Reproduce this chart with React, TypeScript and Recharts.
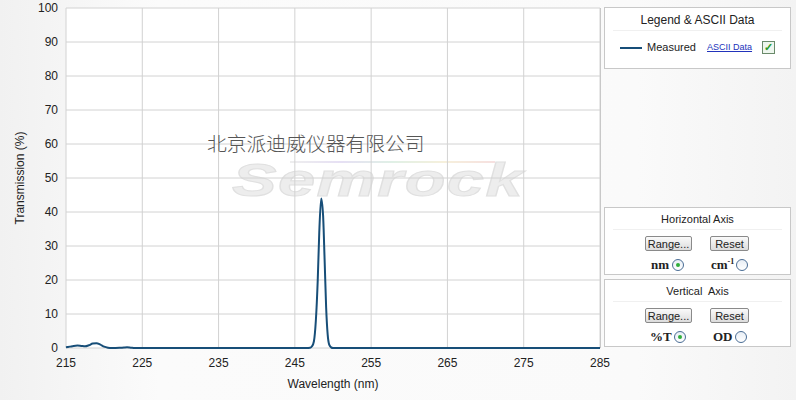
import React from "react";
import { LineChart, Line, XAxis, YAxis, CartesianGrid } from "recharts";

// wavelength (nm) and transmission (%)
const wavelengths = [
  215, 215.5, 216, 216.5, 217, 217.5, 218, 218.5, 219, 219.5, 220, 220.5, 221,
  222, 222.6, 223, 223.5, 224, 230, 240, 246, 246.5, 247, 247.25, 247.5, 247.75,
  248, 248.2, 248.45, 248.7, 248.9, 249.1, 249.3, 249.5, 249.75, 250, 251, 260,
  270, 280, 285,
];
const transmission = [
  0.2, 0.4, 0.6, 0.7, 0.6, 0.5, 0.8, 1.3, 1.4, 1.0, 0.4, 0.1, 0.0,
  0.05, 0.15, 0.2, 0.1, 0.0, 0, 0, 0, 0, 0.1, 0.5, 2, 8,
  20, 34, 44, 39, 26, 12, 4, 1, 0.2, 0, 0, 0,
  0, 0, 0,
];
const xTicks = [215, 225, 235, 245, 255, 265, 275, 285];
const yTicks = [0, 10, 20, 30, 40, 50, 60, 70, 80, 90, 100];

const data = wavelengths.map((w, i) => ({ w, t: transmission[i] }));

const LINE = "#174e78";
const font = "'Liberation Sans', Arial, sans-serif";

const panel: React.CSSProperties = {
  position: "absolute",
  left: 604,
  width: 187,
  background: "#fff",
  border: "1px solid #c8c8c8",
  boxSizing: "border-box",
  fontFamily: font,
  color: "#222",
};

const btn: React.CSSProperties = {
  position: "absolute",
  height: 15,
  border: "1px solid #8a8a8a",
  borderRadius: 2,
  background: "linear-gradient(#fafafa, #dcdcdc)",
  fontSize: 11,
  lineHeight: "14px",
  textAlign: "center",
  boxSizing: "border-box",
};

function Radio({ x, y, on }: { x: number; y: number; on?: boolean }) {
  return (
    <div
      style={{
        position: "absolute",
        left: x,
        top: y,
        width: 12,
        height: 12,
        borderRadius: "50%",
        border: "1px solid #4a6d95",
        background: "linear-gradient(#e8eef5, #fff)",
        boxSizing: "border-box",
      }}
    >
      {on && (
        <div
          style={{
            position: "absolute",
            left: 3,
            top: 3,
            width: 4,
            height: 4,
            borderRadius: "50%",
            background: "#2fae3a",
          }}
        />
      )}
    </div>
  );
}

function AxisPanel(props: {
  top: number;
  title: string;
  a: React.ReactNode;
  b: React.ReactNode;
  ax: number;
  ar: number;
  bx: number;
  br: number;
}) {
  const unit: React.CSSProperties = {
    position: "absolute",
    top: 49,
    fontFamily: "'Liberation Serif', serif",
    fontWeight: "bold",
    fontSize: 13,
    lineHeight: "15px",
    whiteSpace: "nowrap",
  };
  return (
    <div style={{ ...panel, top: props.top, height: 68 }}>
      <div style={{ textAlign: "center", fontSize: 11, marginTop: 5 }}>{props.title}</div>
      <div style={{ position: "absolute", left: 8, right: 8, top: 21, borderTop: "1px solid #f0f0f0" }} />
      <div style={{ ...btn, left: 40, top: 28, width: 47 }}>Range...</div>
      <div style={{ ...btn, left: 105, top: 28, width: 39 }}>Reset</div>
      <div style={{ ...unit, left: props.ax }}>{props.a}</div>
      <Radio x={props.ar} y={51} on />
      <div style={{ ...unit, left: props.bx }}>{props.b}</div>
      <Radio x={props.br} y={51} />
    </div>
  );
}

export default function App() {
  return (
    <div
      style={{
        position: "absolute",
        left: 0,
        top: 0,
        width: 796,
        height: 400,
        overflow: "hidden",
        background: "linear-gradient(90deg, #f1f1f1 0%, #fbfbfb 20%, #fafafa 80%, #f3f3f3 100%)",
      }}
    >
      {/* plot background */}
      <div style={{ position: "absolute", left: 66, top: 8, width: 534, height: 340, background: "#fff" }} />
      {/* watermark */}
      <div
        style={{
          position: "absolute",
          left: 290,
          top: 161,
          width: 205,
          height: 2,
          background: "linear-gradient(90deg, #eee, #e6e0f4, #e0f0e6, #f6f0dc, #f6e0e0)",
        }}
      />
      <div
        style={{
          position: "absolute",
          left: 232,
          top: 161,
          fontFamily: "'Liberation Sans', Arial, sans-serif",
          fontWeight: "bold",
          fontStyle: "italic",
          fontSize: 46,
          lineHeight: "38px",
          letterSpacing: 1,
          color: "#ededed",
          WebkitTextStroke: "1px #e0e0e0",
          transform: "scaleX(1.45)",
          transformOrigin: "left top",
          whiteSpace: "nowrap",
        }}
      >
        Semrock
      </div>

      <div style={{ position: "absolute", left: 0, top: 0 }}>
        <LineChart
          width={796}
          height={400}
          data={data}
          margin={{ top: 8, right: 196, bottom: 0, left: 0 }}
        >
          <CartesianGrid stroke="#d2d2d2" strokeWidth={1} />
          <XAxis
            dataKey="w"
            type="number"
            domain={[215, 285]}
            ticks={xTicks}
            height={52}
            axisLine={false}
            tickLine={false}
            tickMargin={4}
            tick={{ fontSize: 12, fill: "#222", fontFamily: font }}
            label={{
              value: "Wavelength (nm)",
              position: "insideBottom",
              offset: 12,
              style: { fontSize: 12, fill: "#222", fontFamily: font },
            }}
          />
          <YAxis
            type="number"
            domain={[0, 100]}
            ticks={yTicks}
            width={66}
            axisLine={false}
            tickLine={false}
            tickMargin={2}
            tick={{ fontSize: 12, fill: "#222", fontFamily: font }}
            label={{
              value: "Transmission (%)",
              angle: -90,
              position: "insideLeft",
              offset: 20,
              style: { fontSize: 12, fill: "#222", fontFamily: font, textAnchor: "middle" },
            }}
          />
          <Line
            type="monotone"
            dataKey="t"
            stroke={LINE}
            strokeWidth={2}
            dot={false}
            isAnimationActive={false}
          />
        </LineChart>
      </div>

      <div
        style={{
          position: "absolute",
          left: 207,
          top: 132,
          fontFamily: "'Noto Sans CJK SC', sans-serif",
          fontWeight: 300,
          fontSize: 19.8,
          lineHeight: "22px",
          color: "#555",
          whiteSpace: "nowrap",
        }}
      >
        北京派迪威仪器有限公司
      </div>

      {/* right side control panels */}
      <div style={{ position: "absolute", left: 600, top: 8, width: 1, height: 340, background: "#c8c8c8" }} />
      <div style={{ ...panel, top: 7, height: 62 }}>
        <div style={{ textAlign: "center", fontSize: 12, marginTop: 5 }}>Legend &amp; ASCII Data</div>
        <div style={{ position: "absolute", left: 8, right: 8, top: 22, borderTop: "1px solid #f0f0f0" }} />
        <div style={{ position: "absolute", left: 15, top: 39, width: 22, height: 2, background: LINE }} />
        <div style={{ position: "absolute", left: 42, top: 33, fontSize: 11 }}>Measured</div>
        <div
          style={{
            position: "absolute",
            left: 102,
            top: 34,
            fontSize: 9,
            color: "#2233bb",
            textDecoration: "underline",
          }}
        >
          ASCII Data
        </div>
        <div
          style={{
            position: "absolute",
            left: 157,
            top: 33,
            width: 13,
            height: 13,
            border: "1px solid #6a8a6a",
            background: "#eef6ee",
            boxSizing: "border-box",
            color: "#2a9a2a",
            fontSize: 11,
            lineHeight: "11px",
            textAlign: "center",
            fontWeight: "bold",
          }}
        >
          ✓
        </div>
      </div>
      <AxisPanel
        top={207}
        title="Horizontal Axis"
        ax={46}
        ar={67}
        bx={106}
        br={131}
        a="nm"
        b={
          <span>
            cm
            <span style={{ fontSize: 8, verticalAlign: "top", lineHeight: "10px" }}>-1</span>
          </span>
        }
      />
      <AxisPanel
        top={279}
        title={"Vertical\u00a0 Axis"}
        ax={45}
        ar={69}
        bx={108}
        br={130}
        a="%T"
        b="OD"
      />
    </div>
  );
}
